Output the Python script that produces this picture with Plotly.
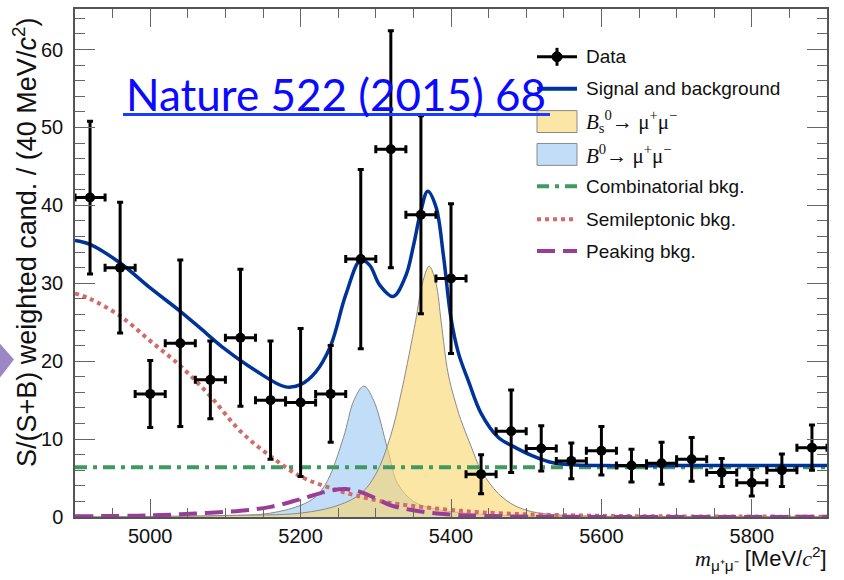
import plotly.graph_objects as go

# ---------------- data ----------------
bin_centers = [4920, 4960, 5000, 5040, 5080, 5120, 5160, 5200, 5240, 5280,
               5320, 5360, 5400, 5440, 5480, 5520, 5560, 5600, 5640, 5680,
               5720, 5760, 5800, 5840, 5880]
data_values = [41.0, 32.0, 15.8, 22.3, 17.6, 23.0, 15.0, 14.7, 15.8, 33.1,
               47.2, 38.8, 30.6, 5.5, 11.0, 8.8, 7.2, 8.5, 6.6, 6.9,
               7.4, 5.7, 4.4, 6.0, 8.9]
data_errors = [9.8, 8.4, 4.3, 10.7, 5.0, 8.8, 7.6, 9.5, 6.2, 11.5,
               15.2, 12.7, 9.6, 2.5, 5.3, 2.9, 2.3, 3.1, 2.1, 2.7,
               2.8, 1.8, 1.7, 2.1, 2.9]
bin_half_width = 20  # MeV/c^2 (40 MeV bins)

total_mass = [4900, 4920, 4960, 5000, 5040, 5067, 5100, 5140, 5180, 5200,
              5220, 5240, 5260, 5280, 5292, 5305, 5323, 5340, 5350,
              5360, 5369, 5380, 5390, 5400, 5410, 5423, 5440, 5463, 5484,
              5507, 5530, 5560, 5600, 5700, 5800, 5900]
total_fit = [35.5, 35.0, 32.6, 29.4, 26.4, 24.2, 21.5, 18.8, 16.7, 17.0,
             18.6, 22.0, 28.5, 33.0, 32.3, 29.8, 28.3, 31.0, 34.8,
             39.3, 41.8, 39.8, 33.5, 25.5, 21.0, 17.5, 13.3, 10.2, 9.0,
             7.9, 7.1, 6.7, 6.6, 6.6, 6.6, 6.6]

bs_mass = [4900, 5100, 5200, 5250, 5280, 5300, 5320, 5335, 5353, 5362,
           5371, 5380, 5387, 5396, 5405, 5413, 5427, 5440, 5463, 5484,
           5507, 5537, 5600, 5700, 5900]
bs_yield = [0.0, 0.2, 0.5, 1.5, 3.0, 5.5, 10.5, 16.5, 25.2, 30.0,
            32.2, 30.0, 25.0, 18.5, 15.0, 12.5, 9.0, 6.0, 3.0, 1.5,
            0.7, 0.3, 0.1, 0.03, 0.01]

b0_mass = [4900, 5100, 5160, 5200, 5220, 5236, 5257, 5271, 5284, 5297,
           5316, 5329, 5350, 5380, 5420, 5460, 5520, 5600, 5900]
b0_yield = [0.0, 0.15, 0.5, 1.5, 2.6, 4.7, 10.2, 15.0, 16.8, 15.0,
            8.6, 4.3, 2.0, 1.0, 0.5, 0.25, 0.1, 0.05, 0.01]

comb_mass = [4900, 5900]
comb_level = [6.4, 6.4]

semi_mass = [4900, 4920, 4960, 5000, 5040, 5080, 5120, 5160, 5200, 5240,
             5280, 5320, 5360, 5400, 5440, 5500, 5600, 5700, 5900]
semi_yield = [28.7, 28.0, 25.8, 22.6, 19.4, 15.5, 11.0, 7.8, 5.2, 3.7,
              2.6, 1.8, 1.3, 0.9, 0.6, 0.35, 0.15, 0.08, 0.04]

peak_mass = [4900, 5000, 5060, 5120, 5160, 5200, 5240, 5260, 5280, 5300,
             5320, 5360, 5400, 5440, 5500, 5900]
peak_yield = [0.1, 0.2, 0.45, 0.8, 1.3, 2.3, 3.4, 3.6, 3.2, 2.4,
              1.5, 0.7, 0.3, 0.15, 0.05, 0.02]

legend_labels = [
    "Data",
    "Signal and background",
    "<i>B</i><sub>s</sub><sup>0</sup>→ μ<sup>+</sup>μ<sup>−</sup>",
    "<i>B</i><sup>0</sup>→ μ<sup>+</sup>μ<sup>−</sup>",
    "Combinatorial bkg.",
    "Semileptonic bkg.",
    "Peaking bkg.",
]

# ---------------- style ----------------
SANS = "Liberation Sans, Arial, sans-serif"
SERIF = "Liberation Serif, Times New Roman, serif"
BLUE = "#00339a"
YELLOW = "rgba(250,214,110,0.62)"
LIGHTBLUE = "rgba(160,203,245,0.65)"
GREEN = "#3f9a62"
RED = "#d46a6a"
PURPLE = "#993d99"
OUTLINE = "#8a8a8a"

W, H = 844, 580
L, R, T, B = 75, 827, 7, 517  # plot frame in pixels


def fx(x):
    return (x - L) / (R - L)


def fy(y):
    return (B - y) / (B - T)


fig = go.Figure()

fig.add_trace(go.Scatter(x=b0_mass, y=b0_yield, mode="lines", line_shape="spline",
                         line=dict(color=OUTLINE, width=1), fill="tozeroy",
                         fillcolor=LIGHTBLUE, hoverinfo="skip"))
fig.add_trace(go.Scatter(x=bs_mass, y=bs_yield, mode="lines", line_shape="spline",
                         line=dict(color=OUTLINE, width=1), fill="tozeroy",
                         fillcolor=YELLOW, hoverinfo="skip"))
fig.add_trace(go.Scatter(x=semi_mass, y=semi_yield, mode="lines", line_shape="spline",
                         line=dict(color=RED, width=4, dash="4px,4px")))
fig.add_trace(go.Scatter(x=peak_mass, y=peak_yield, mode="lines", line_shape="spline",
                         line=dict(color=PURPLE, width=4, dash="18px,8px")))
fig.add_trace(go.Scatter(x=comb_mass, y=comb_level, mode="lines",
                         line=dict(color=GREEN, width=4, dash="12px,6px,4px,6px")))
fig.add_trace(go.Scatter(x=total_mass, y=total_fit, mode="lines", line_shape="spline",
                         line=dict(color=BLUE, width=3.5)))
fig.add_trace(go.Scatter(
    x=bin_centers, y=data_values, mode="markers",
    marker=dict(color="black", size=10),
    error_y=dict(type="data", array=data_errors, visible=True,
                 color="black", thickness=3, width=3),
    error_x=dict(type="constant", value=bin_half_width, visible=True,
                 color="black", thickness=3, width=4),
))

axis_common = dict(showgrid=False, zeroline=False, showline=True,
                   linecolor="#555", linewidth=1.5, mirror="ticks",
                   ticks="inside", tickcolor="#666", tickwidth=1,
                   tickfont=dict(family=SANS, size=20, color="#111"))

fig.update_xaxes(range=[4900, 5900], tick0=5000, dtick=200, ticklen=18,
                 ticklabelstandoff=0,
                 minor=dict(dtick=50, ticklen=9, ticks="inside", tickcolor="#666"),
                 **axis_common)
fig.update_yaxes(range=[0, 65.2], tick0=0, dtick=10, ticklen=20,
                 ticklabelstandoff=6,
                 minor=dict(dtick=2, ticklen=10, ticks="inside", tickcolor="#666"),
                 **axis_common)

shapes = []
annotations = []

# legend
rows = [55, 87, 120, 153, 185, 218, 250]
sx0, sx1, tx = 537, 577, 584
# Data entry
shapes.append(dict(type="line", xref="paper", yref="paper", x0=fx(sx0), x1=fx(sx1),
                   y0=fy(rows[0]), y1=fy(rows[0]), line=dict(color="black", width=3)))
shapes.append(dict(type="line", xref="paper", yref="paper", x0=fx(557), x1=fx(557),
                   y0=fy(rows[0] - 9), y1=fy(rows[0] + 9), line=dict(color="black", width=3)))
shapes.append(dict(type="circle", xref="paper", yref="paper", x0=fx(552), x1=fx(562),
                   y0=fy(rows[0] + 5), y1=fy(rows[0] - 5), fillcolor="black",
                   line=dict(color="black", width=1)))
# Signal and background
shapes.append(dict(type="line", xref="paper", yref="paper", x0=fx(sx0), x1=fx(sx1),
                   y0=fy(rows[1]), y1=fy(rows[1]), line=dict(color=BLUE, width=4)))
# boxes
for r, col in ((rows[2], YELLOW), (rows[3], LIGHTBLUE)):
    shapes.append(dict(type="rect", xref="paper", yref="paper", x0=fx(sx0), x1=fx(sx1),
                       y0=fy(r + 11), y1=fy(r - 11), fillcolor=col,
                       line=dict(color=OUTLINE, width=1)))
for r, col, dash in ((rows[4], GREEN, "12px,6px,4px,6px"),
                     (rows[5], RED, "4px,4px"),
                     (rows[6], PURPLE, "18px,8px")):
    shapes.append(dict(type="line", xref="paper", yref="paper", x0=fx(sx0), x1=fx(sx1),
                       y0=fy(r), y1=fy(r), line=dict(color=col, width=4, dash=dash)))

for i, (r, lab) in enumerate(zip(rows, legend_labels)):
    fam = SERIF if i in (2, 3) else SANS
    size = 21 if i in (2, 3) else 19
    annotations.append(dict(xref="paper", yref="paper", x=fx(tx), y=fy(r),
                            xanchor="left", yanchor="middle", showarrow=False,
                            text=lab, font=dict(family=fam, size=size, color="#111")))

# axis titles
annotations.append(dict(
    xref="paper", yref="paper", x=fx(25), y=fy(242), xanchor="center", yanchor="middle",
    textangle=-90, showarrow=False,
    text="S/(S+B) weighted cand. / (40 MeV/<i>c</i><sup>2</sup>)",
    font=dict(family=SANS, size=27, color="#111")))
annotations.append(dict(
    xref="paper", yref="paper", x=fx(829), y=fy(559), xanchor="right", yanchor="middle",
    showarrow=False,
    text=("<span style='font-family:Liberation Serif'><i>m</i></span>"
          "<sub>μ⁺μ⁻</sub> [MeV/"
          "<span style='font-family:Liberation Serif'><i>c</i></span><sup>2</sup>]"),
    font=dict(family=SANS, size=22, color="#111")))

# reference link
annotations.append(dict(xref="paper", yref="paper", x=fx(124), y=fy(92),
                        xanchor="left", yanchor="middle", showarrow=False,
                        text="Nature 522 (2015) 68",
                        font=dict(family="Lato, Open Sans, sans-serif", size=44,
                                  color="#0a0aff")))
shapes.append(dict(type="line", xref="paper", yref="paper", x0=fx(123), x1=fx(550),
                   y0=fy(113), y1=fy(113), line=dict(color="#1a3cff", width=3)))

# arrow tip at the left edge
shapes.append(dict(type="path", xref="paper", yref="paper",
                   path=f"M {fx(0)},{fy(343)} L {fx(14)},{fy(359)} L {fx(0)},{fy(377)} Z",
                   fillcolor="#9b86c6", line=dict(width=0)))

fig.update_layout(
    width=W, height=H,
    margin=dict(l=L, r=W - R, t=T, b=H - B, pad=0),
    paper_bgcolor="white", plot_bgcolor="white",
    showlegend=False,
    shapes=shapes, annotations=annotations,
)

fig.write_html("out.html")
